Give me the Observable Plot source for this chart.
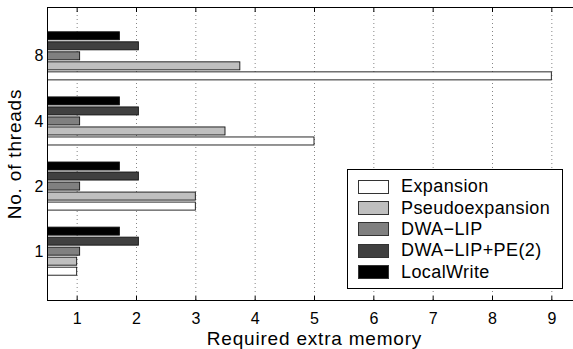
<!DOCTYPE html>
<html>
<head>
<meta charset="utf-8">
<script src="https://cdn.jsdelivr.net/npm/d3@7"></script>
<script src="https://cdn.jsdelivr.net/npm/@observablehq/plot@0.6"></script>
<style>
  html, body { margin: 0; padding: 0; background: #fff; overflow: hidden; }
  #wrap { position: relative; width: 573px; height: 349px; overflow: hidden; font-family: "Liberation Sans", Arial, Helvetica, sans-serif; }
  #wrap svg { max-width: none !important; }
  #legend { position: absolute; left: 347px; top: 169px; width: 214px; height: 112px; border: 1px solid #000; background: #fff; padding-top: 6px; box-sizing: content-box; }
  .row { display: flex; align-items: center; height: 21.4px; }
  .sw { width: 31px; height: 14px; margin-left: 10px; border: 1px solid #333; box-sizing: border-box; }
  .lab { margin-left: 12px; font-size: 18px; letter-spacing: 0.4px; color: #000; white-space: nowrap; }
</style>
</head>
<body>
<div id="wrap"></div>
<script>
// ---- data ----
const threads = ["1", "2", "4", "8"];
const series = ["Expansion", "Pseudoexpansion", "DWA\u2212LIP", "DWA\u2212LIP+PE(2)", "LocalWrite"];
const colors = ["#ffffff", "#bfbfbf", "#808080", "#404040", "#000000"];
const expansion = [1, 3, 5, 9];
const pseudoexpansion = [1, 3, 3.5, 3.75];
const dwaLip = [1.05, 1.05, 1.05, 1.05];
const dwaLipPe2 = [2.04, 2.04, 2.04, 2.04];
const localWrite = [1.72, 1.72, 1.72, 1.72];
const xTicks = [1, 2, 3, 4, 5, 6, 7, 8, 9];
const xTitle = "Required extra memory";
const yTitle = "No. of threads";

// ---- grouped layout (MATLAB barh grouping) ----
const values = [expansion, pseudoexpansion, dwaLip, dwaLipPe2, localWrite];
const groupWidth = Math.min(0.8, series.length / (series.length + 1.5));
const step = groupWidth / series.length;
const barW = step * 0.8;
const rows = [];
series.forEach((s, si) => {
  threads.forEach((t, ti) => {
    const pos = ti + 1 + (si - (series.length - 1) / 2) * step;
    rows.push({series: s, thread: t, value: values[si][ti], y1: pos - barW / 2, y2: pos + barW / 2});
  });
});

const chart = Plot.plot({
  width: 581,
  height: 349,
  marginLeft: 47,
  marginRight: 0,
  marginTop: 7,
  marginBottom: 49,
  style: {fontFamily: "'Liberation Sans', Arial, Helvetica, sans-serif", fontSize: "16px", color: "#000", background: "#fff", maxWidth: "none"},
  x: {domain: [0.5, 9.5]},
  y: {domain: [0.25, 4.75]},
  color: {domain: series, range: colors},
  marks: [
    Plot.gridX(xTicks, {stroke: "#666", strokeOpacity: 1, strokeDasharray: "1,3", strokeWidth: 0.8}),
    Plot.rectX(rows, {x: "value", y1: "y1", y2: "y2", fill: "series", stroke: "#111", strokeWidth: 0.9, clip: true}),
    Plot.axisX({ticks: xTicks, tickSize: 0, tickPadding: 12, label: null}),
    Plot.axisX({ticks: xTicks, anchor: "bottom", tickSize: -4, tickFormat: () => "", label: null}),
    Plot.axisX({ticks: xTicks, anchor: "top", tickSize: -4, tickFormat: () => "", label: null}),
    Plot.axisX({ticks: [], label: xTitle, labelAnchor: "center", labelArrow: "none", labelOffset: 44}),
    Plot.axisY({ticks: [1, 2, 3, 4], tickFormat: d => threads[d - 1], tickSize: 0, tickPadding: 4, label: null}),
    Plot.axisY({ticks: [], label: yTitle, labelAnchor: "center", labelArrow: "none", labelOffset: 40}),
    Plot.frame({stroke: "#000", strokeWidth: 1})
  ]
});

const wrap = document.getElementById("wrap");
wrap.appendChild(chart);
// font sizes: tick labels 16px, axis titles 19px
d3.select(chart).selectAll("text").each(function () {
  const t = this.textContent;
  const isTitle = t === xTitle || t === yTitle;
  d3.select(this)
    .attr("font-size", isTitle ? 19 : 16)
    .style("font-size", isTitle ? "19px" : "16px")
    .style("letter-spacing", isTitle ? "0.8px" : null);
});

const legend = document.createElement("div");
legend.id = "legend";
series.forEach((s, i) => {
  const row = document.createElement("div");
  row.className = "row";
  const sw = document.createElement("div");
  sw.className = "sw";
  sw.style.background = colors[i];
  const lab = document.createElement("span");
  lab.className = "lab";
  lab.textContent = s;
  row.appendChild(sw);
  row.appendChild(lab);
  legend.appendChild(row);
});
wrap.appendChild(legend);
</script>
</body>
</html>
